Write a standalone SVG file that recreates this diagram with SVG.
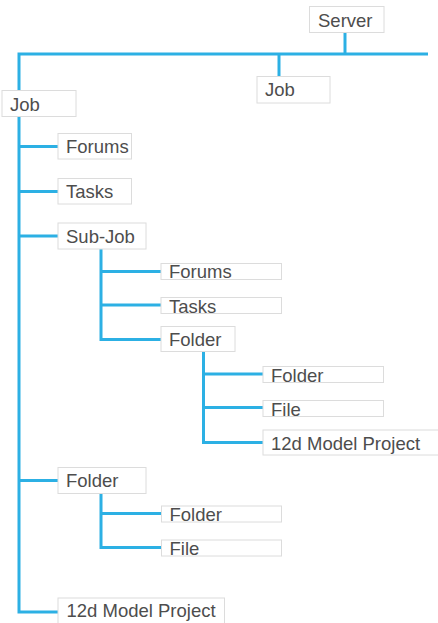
<svg xmlns="http://www.w3.org/2000/svg" width="438" height="623" viewBox="0 0 438 623">
<style>
.c{fill:none;stroke:#2cb0e4;stroke-width:3;stroke-linecap:butt;stroke-linejoin:miter}
.b{fill:#fff;stroke:#dcdcdc;stroke-width:1}
.t{font-family:"Liberation Sans",Arial,sans-serif;font-size:18.5px;fill:#4d4d4d}
</style>
<rect width="438" height="623" fill="#fff"/>
<g id="connectors">
<path class="c" d="M345,33 V54"/>
<path class="c" d="M428,54 H19 V612 H58"/>
<path class="c" d="M279,54 V76.5"/>
<path class="c" d="M19,146.5 H58 M19,191.5 H58 M19,236 H58 M19,480.5 H58"/>
<path class="c" d="M101,249 V339.5 H161 M101,271.5 H161 M101,305 H161"/>
<path class="c" d="M203.5,351.5 V442.5 H263 M203.5,374 H263 M203.5,407.5 H263"/>
<path class="c" d="M101,493.5 V547.5 H161.5 M101,513.5 H161.5"/>
</g>
<g id="server"><rect class="b" x="309.5" y="6.5" width="74.5" height="26"/><text class="t" x="318" y="27">Server</text></g>
<g id="job-top"><rect class="b" x="257" y="76.5" width="73" height="26.5"/><text class="t" x="265" y="96">Job</text></g>
<g id="job"><rect class="b" x="2" y="90.5" width="74" height="26"/><text class="t" x="10" y="111">Job</text></g>
<g id="forums1"><rect class="b" x="58" y="133.5" width="73.5" height="25.5"/><text class="t" x="66" y="152.5">Forums</text></g>
<g id="tasks1"><rect class="b" x="58" y="178.5" width="73.5" height="25.5"/><text class="t" x="66" y="197.5">Tasks</text></g>
<g id="subjob"><rect class="b" x="58" y="223" width="88" height="26"/><text class="t" x="66" y="242.5">Sub-Job</text></g>
<g id="forums2"><rect class="b" x="161" y="263.5" width="120.5" height="16"/><text class="t" x="169" y="277.5">Forums</text></g>
<g id="tasks2"><rect class="b" x="161" y="297.5" width="120.5" height="16"/><text class="t" x="169" y="312.5">Tasks</text></g>
<g id="folder2"><rect class="b" x="161" y="326.5" width="74" height="25"/><text class="t" x="169" y="346">Folder</text></g>
<g id="folder3"><rect class="b" x="263" y="366.5" width="120.5" height="16"/><text class="t" x="271" y="381.5">Folder</text></g>
<g id="file3"><rect class="b" x="263" y="400.5" width="120.5" height="16"/><text class="t" x="271" y="415.5">File</text></g>
<g id="project3"><rect class="b" x="263" y="430" width="176" height="25"/><text class="t" x="271" y="449.5">12d Model Project</text></g>
<g id="folder1"><rect class="b" x="58" y="467.5" width="88" height="26"/><text class="t" x="66" y="487">Folder</text></g>
<g id="folder4"><rect class="b" x="161.5" y="506" width="120" height="16"/><text class="t" x="169.5" y="521">Folder</text></g>
<g id="file4"><rect class="b" x="161.5" y="540" width="120" height="16"/><text class="t" x="169.5" y="555">File</text></g>
<g id="project1"><rect class="b" x="58" y="598" width="166.5" height="30"/><text class="t" x="66.5" y="617">12d Model Project</text></g>
</svg>
